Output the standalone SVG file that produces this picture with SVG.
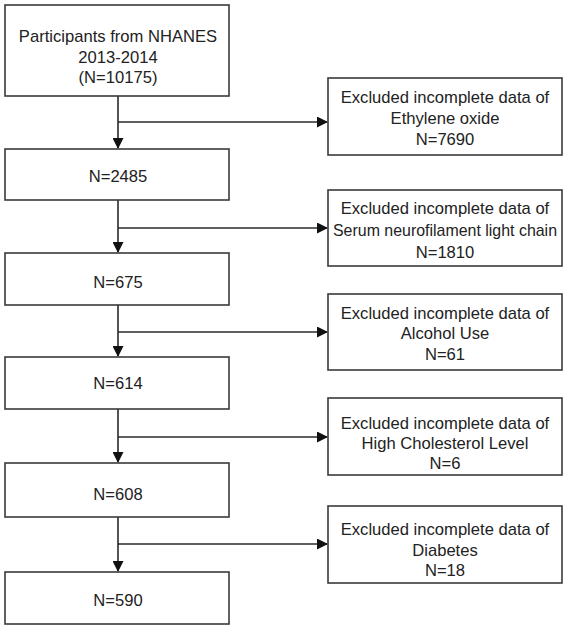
<svg xmlns="http://www.w3.org/2000/svg" width="567" height="629" viewBox="0 0 567 629">
<defs>
<style>
.box{fill:#fff;stroke:#3a3a3a;stroke-width:1.6}
.t{font-family:"Liberation Sans",Arial,sans-serif;font-size:16.6px;fill:#222;text-anchor:middle}
.ln{stroke:#2a2a2a;stroke-width:1.6;fill:none}
</style>
<marker id="ah" markerWidth="11" markerHeight="11" refX="10" refY="5.5" orient="auto" markerUnits="userSpaceOnUse">
<path d="M0,0 L11,5.5 L0,11 Z" fill="#111"/>
</marker>
</defs>
<rect width="567" height="629" fill="#fff"/>
<g id="connectors">
<line class="ln" x1="118" y1="96" x2="118" y2="148" marker-end="url(#ah)"/>
<line class="ln" x1="118" y1="122" x2="327" y2="122" marker-end="url(#ah)"/>
<line class="ln" x1="118" y1="200" x2="118" y2="252" marker-end="url(#ah)"/>
<line class="ln" x1="118" y1="228" x2="327" y2="228" marker-end="url(#ah)"/>
<line class="ln" x1="118" y1="305" x2="118" y2="356" marker-end="url(#ah)"/>
<line class="ln" x1="118" y1="332" x2="327" y2="332" marker-end="url(#ah)"/>
<line class="ln" x1="118" y1="409" x2="118" y2="462" marker-end="url(#ah)"/>
<line class="ln" x1="118" y1="437" x2="327" y2="437" marker-end="url(#ah)"/>
<line class="ln" x1="118" y1="517" x2="118" y2="571" marker-end="url(#ah)"/>
<line class="ln" x1="118" y1="544" x2="327" y2="544" marker-end="url(#ah)"/>
</g>
<g id="n1"><rect class="box" x="5" y="5" width="224" height="91"/>
<text class="t" x="118" y="42">Participants from NHANES</text>
<text class="t" x="118" y="63">2013-2014</text>
<text class="t" x="118" y="83">(N=10175)</text></g>
<g id="n2"><rect class="box" x="5" y="149" width="224" height="51"/>
<text class="t" x="118" y="182">N=2485</text></g>
<g id="n3"><rect class="box" x="5" y="253" width="224" height="52"/>
<text class="t" x="118" y="288">N=675</text></g>
<g id="n4"><rect class="box" x="5" y="357" width="224" height="52"/>
<text class="t" x="118" y="389">N=614</text></g>
<g id="n5"><rect class="box" x="5" y="463" width="224" height="54"/>
<text class="t" x="118" y="500">N=608</text></g>
<g id="n6"><rect class="box" x="5" y="572" width="224" height="52"/>
<text class="t" x="118" y="606">N=590</text></g>
<g id="e1"><rect class="box" x="328" y="78" width="234" height="77"/>
<text class="t" x="445" y="103">Excluded incomplete data of</text>
<text class="t" x="445" y="124">Ethylene oxide</text>
<text class="t" x="445" y="145">N=7690</text></g>
<g id="e2"><rect class="box" x="328" y="190" width="234" height="76"/>
<text class="t" x="445" y="214">Excluded incomplete data of</text>
<text class="t" x="445" y="236" textLength="224" lengthAdjust="spacingAndGlyphs">Serum neurofilament light chain</text>
<text class="t" x="445" y="258">N=1810</text></g>
<g id="e3"><rect class="box" x="328" y="294" width="234" height="76"/>
<text class="t" x="445" y="319">Excluded incomplete data of</text>
<text class="t" x="445" y="339">Alcohol Use</text>
<text class="t" x="445" y="360">N=61</text></g>
<g id="e4"><rect class="box" x="328" y="398" width="234" height="77"/>
<text class="t" x="445" y="429">Excluded incomplete data of</text>
<text class="t" x="445" y="449">High Cholesterol Level</text>
<text class="t" x="445" y="469">N=6</text></g>
<g id="e5"><rect class="box" x="328" y="506" width="234" height="77"/>
<text class="t" x="445" y="535">Excluded incomplete data of</text>
<text class="t" x="445" y="556">Diabetes</text>
<text class="t" x="445" y="576">N=18</text></g>
</svg>
